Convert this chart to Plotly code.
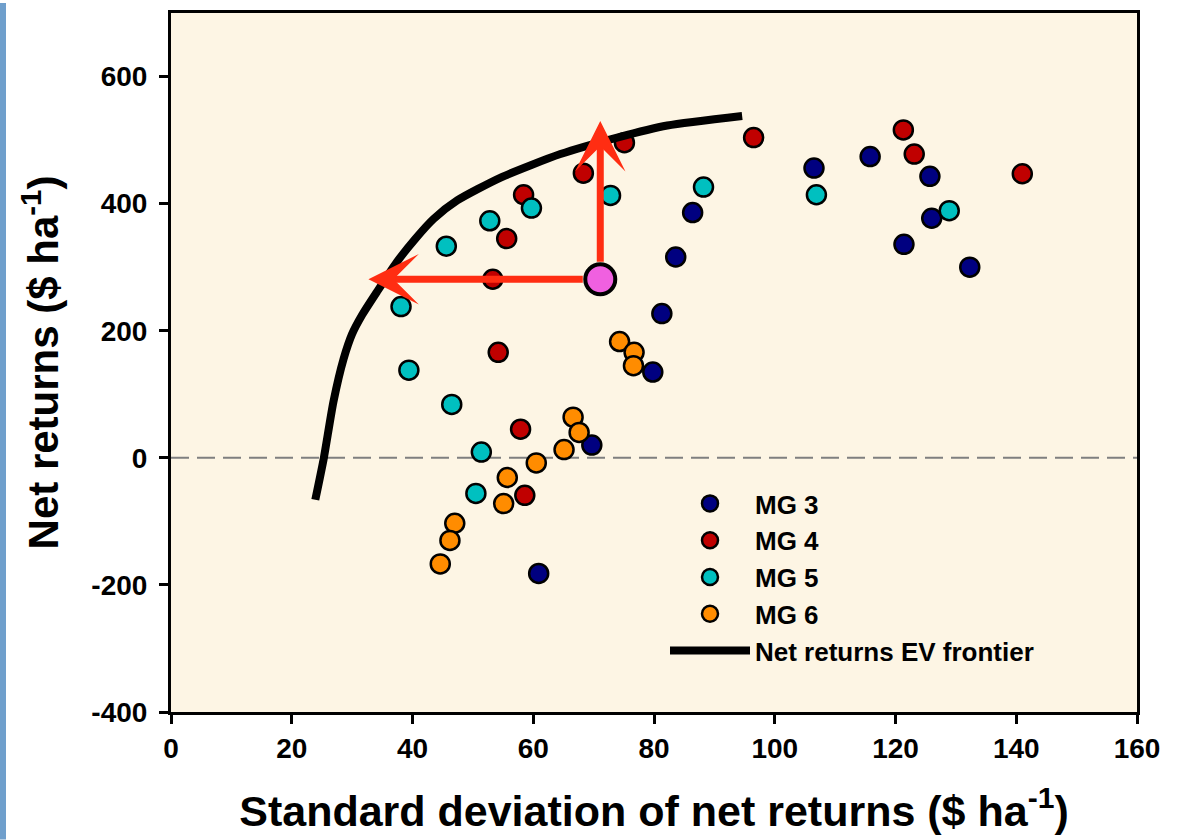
import plotly.graph_objects as go

# ---------------- data ----------------
mg3_x = [69.7, 60.9, 79.8, 81.3, 83.6, 86.4, 106.5, 115.8, 125.7, 126.0, 121.4, 132.3]
mg3_y = [20, -182, 135, 227, 316, 386, 456, 474, 443, 377, 336, 300]

mg4_x = [75.1, 68.3, 58.4, 55.6, 53.3, 54.2, 57.9, 58.6, 96.5, 121.3, 123.1, 141.0]
mg4_y = [496, 448, 414, 345, 281, 166, 45, -59, 504, 516, 478, 447]

mg5_x = [72.8, 59.7, 52.8, 45.6, 38.1, 39.4, 46.5, 51.4, 50.5, 88.2, 106.9, 128.9]
mg5_y = [413, 393, 373, 333, 238, 138, 84, 9, -56, 426, 414, 389]

mg6_x = [74.3, 76.7, 76.6, 66.6, 67.6, 65.1, 60.5, 55.7, 55.1, 47.0, 46.2, 44.6]
mg6_y = [183, 166, 145, 64, 40, 13, -8, -31, -72, -103, -130, -167]

frontier_x = [23.9, 25.3, 26.9, 28.6, 30.0, 31.6, 34.1, 37.4, 40.5, 43.5, 47.4, 54.6, 64.5, 73.9, 82.2, 94.6]
frontier_y = [-66, -1, 88, 156, 195, 224, 261, 308, 345, 376, 405, 441, 478, 504, 523, 538]

point_x = [71.1]
point_y = [281]
arrow_left_tip = (32.7, 281)
arrow_up_tip = (71.1, 530)

series_names = ["MG 3", "MG 4", "MG 5", "MG 6"]
series_colors = ["#000080", "#c00000", "#00c0c0", "#ff8c00"]

x_ticks = [0, 20, 40, 60, 80, 100, 120, 140, 160]
y_ticks = [-400, -200, 0, 200, 400, 600]

FONT = "Liberation Sans, Arial, sans-serif"

fig = go.Figure()

for name, col, xs, ys in zip(series_names, series_colors,
                             [mg3_x, mg4_x, mg5_x, mg6_x],
                             [mg3_y, mg4_y, mg5_y, mg6_y]):
    fig.add_trace(go.Scatter(
        x=xs, y=ys, mode="markers", name=name,
        marker=dict(size=19, color=col, line=dict(color="black", width=2.5)),
    ))

fig.add_trace(go.Scatter(
    x=frontier_x, y=frontier_y, mode="lines", name="Net returns EV frontier",
    line=dict(color="black", width=8, shape="spline", smoothing=0.6),
))

fig.add_trace(go.Scatter(
    x=point_x, y=point_y, mode="markers", showlegend=False,
    marker=dict(size=30, color="#f060e0", line=dict(color="black", width=4)),
))

arrow_col = "#ff2d12"
for tip in [arrow_left_tip, arrow_up_tip]:
    fig.add_annotation(
        x=tip[0], y=tip[1], ax=point_x[0], ay=point_y[0],
        xref="x", yref="y", axref="x", ayref="y",
        text="", showarrow=True, arrowhead=3, arrowsize=1.2,
        arrowwidth=7, arrowcolor=arrow_col, startstandoff=16,
    )

# zero dashed line
fig.add_shape(type="line", xref="paper", yref="y", x0=0, x1=1, y0=0, y1=0,
              line=dict(color="#7f7f7f", width=2, dash="18px,8px"), layer="below")

# left decorative blue bar
W, H = 966, 702
fig.add_shape(type="rect", xref="paper", yref="paper",
              x0=-171 / W, x1=(-171 + 6) / W, y0=-128 / H, y1=1 + 10 / H,
              fillcolor="#6f9fcc", line=dict(width=0), layer="below")

fig.update_layout(
    width=1178, height=840,
    margin=dict(l=171, r=41, t=10, b=128),
    paper_bgcolor="white",
    plot_bgcolor="#fdf5e4",
    font=dict(family=FONT, color="black", size=28, weight="bold"),
    showlegend=True,
    legend=dict(
        x=(665 - 171) / W, y=1 - (479 - 10) / H, xanchor="left", yanchor="top",
        bgcolor="rgba(0,0,0,0)", itemwidth=80,
        font=dict(family=FONT, size=26, weight="bold", color="black"),
        tracegroupgap=0,
    ),
)

fig.update_xaxes(
    range=[0, 160], tickvals=x_ticks, ticktext=[str(v) for v in x_ticks],
    showline=True, linecolor="black", linewidth=3, mirror=True,
    ticks="outside", ticklen=9, tickwidth=3, tickcolor="black",
    showgrid=False, zeroline=False,
    tickfont=dict(family=FONT, size=28, weight="bold"),
    title=dict(text="Standard deviation of net returns ($ ha<sup>-1</sup>)",
               font=dict(family=FONT, size=43, weight="bold"), standoff=34),
)
fig.update_yaxes(
    range=[-400, 700], tickvals=y_ticks, ticktext=[str(v) for v in y_ticks],
    showline=True, linecolor="black", linewidth=3, mirror=True,
    ticks="outside", ticklen=9, tickwidth=3, tickcolor="black",
    showgrid=False, zeroline=False, ticklabelstandoff=6,
    tickfont=dict(family=FONT, size=28, weight="bold"),
    title=dict(text="Net returns ($ ha<sup>-1</sup>)",
               font=dict(family=FONT, size=42, weight="bold"), standoff=20),
)

fig.write_html("out.html", config={"displayModeBar": False},
               post_script="document.body.style.margin='0';")
